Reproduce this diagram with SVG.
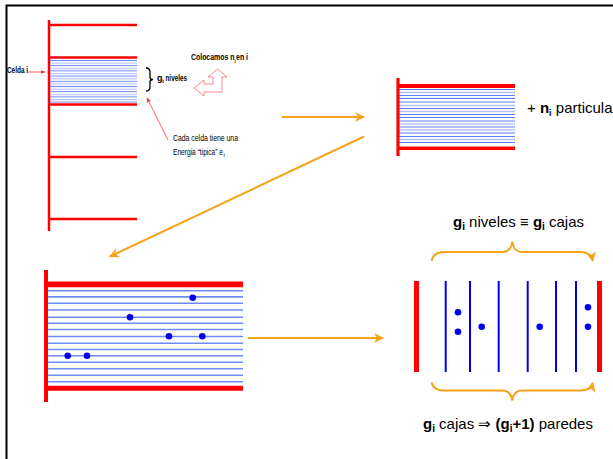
<svg xmlns="http://www.w3.org/2000/svg" width="613" height="459" viewBox="0 0 613 459">
  <style>
    .wall { stroke: #ff0000; fill: none; }
    .lvl-d { stroke: #5b7cff; stroke-width: 1; }
    .lvl-l { stroke: #b3c3ff; stroke-width: 1.4; }
    .lvl { stroke: #6b8cff; stroke-width: 1.6; }
    .box { stroke: #0000ee; stroke-width: 2; }
    .dot { fill: #0000ee; }
    .flow { stroke: #f7a21b; stroke-width: 2; fill: none; }
    .sm { font-family: "Liberation Sans", Arial, sans-serif; font-size: 9px; fill: #000; }
    .sub { font-family: "Liberation Sans", Arial, sans-serif; font-size: 6px; fill: #000; }
    .lg { font-family: "Liberation Sans", Arial, sans-serif; font-size: 15px; fill: #000; }
    .b { font-weight: bold; }
  </style>
  <defs>
    <marker id="ah" viewBox="0 0 10 10" refX="9" refY="5" markerWidth="5" markerHeight="5" orient="auto">
      <path d="M0,0 L10,5 L0,10 L3,5 z" fill="#f7a21b"/>
    </marker>
    <marker id="ahr" viewBox="0 0 10 10" refX="9" refY="5" markerWidth="6" markerHeight="6" orient="auto">
      <path d="M0,1 L10,5 L0,9 z" fill="#ff3030"/>
    </marker>
    <pattern id="lv1" x="0" y="60" width="10" height="5.2" patternUnits="userSpaceOnUse">
      <rect x="0" y="0" width="10" height="1" fill="#6a88ff"/>
      <rect x="0" y="2.6" width="10" height="1.2" fill="#b8c6ff"/>
    </pattern>
  </defs>

  <!-- slide frame -->
  <rect x="6.5" y="5.5" width="700" height="500" fill="#fff" stroke="#000" stroke-width="2"/>

  <!-- energy ladder with the highlighted cell -->
  <g id="ladder">
    <rect x="50" y="59" width="87" height="44" fill="url(#lv1)"/>
    <line class="wall" x1="49" y1="20" x2="49" y2="231" stroke-width="2.5"/>
    <line class="wall" x1="49" y1="25" x2="137" y2="25" stroke-width="2.5"/>
    <line class="wall" x1="49" y1="57.5" x2="137" y2="57.5" stroke-width="2.5"/>
    <line class="wall" x1="49" y1="104.5" x2="137" y2="104.5" stroke-width="2.5"/>
    <line class="wall" x1="49" y1="157" x2="137" y2="157" stroke-width="2.5"/>
    <line class="wall" x1="49" y1="219" x2="137" y2="219" stroke-width="2.5"/>
  </g>

  <g id="celda-label">
    <text class="sm b" x="7" y="73" textLength="21" lengthAdjust="spacingAndGlyphs">Celda i</text>
    <line x1="28" y1="72" x2="45" y2="72" stroke="#ff3030" stroke-width="0.8" marker-end="url(#ahr)"/>
  </g>

  <g id="niveles-label">
    <path d="M146,68 Q150,68 150,72 L150,77 Q150,79.5 153,79.5 Q150,79.5 150,82 L150,87 Q150,91 146,91" fill="none" stroke="#000" stroke-width="1.3"/>
    <text class="sm b" x="157" y="81">g</text>
    <text class="sub b" x="162.2" y="83">i</text>
    <text class="sm b" x="165.5" y="81" textLength="21.5" lengthAdjust="spacingAndGlyphs">niveles</text>
  </g>

  <g id="colocamos">
    <text class="sm b" transform="translate(191 60) scale(0.77 1)" x="0" y="0">Colocamos n<tspan class="sub" dy="2.5">i</tspan><tspan dy="-2.5" dx="0.5">en i</tspan></text>
    <polygon points="194,88 204,80 204,84 213,84 213,77 208,77 217.5,69 227,77 222,77 222,92 204,92 204,96" fill="#fff" stroke="#f48a8a" stroke-width="1"/>
  </g>

  <g id="energia-note">
    <line x1="168" y1="140" x2="147" y2="98" stroke="#ff3030" stroke-width="0.8" marker-end="url(#ahr)"/>
    <text class="sm" x="173" y="141" textLength="65" lengthAdjust="spacingAndGlyphs">Cada celda tiene una</text>
    <text class="sm" x="173" y="155" textLength="50" lengthAdjust="spacingAndGlyphs">Energia “tipica” e</text>
    <text class="sub" x="223.5" y="157">i</text>
  </g>

  <!-- isolated cell -->
  <g id="cell">
    <g>
      <line class="lvl-d" x1="399" y1="89.5" x2="515" y2="89.5"/>
      <line class="lvl-l" x1="399" y1="92.5" x2="515" y2="92.5"/>
      <line class="lvl-d" x1="399" y1="95.5" x2="515" y2="95.5"/>
      <line class="lvl-d" x1="399" y1="98.5" x2="515" y2="98.5"/>
      <line class="lvl-d" x1="399" y1="102" x2="515" y2="102"/>
      <line class="lvl-l" x1="399" y1="105.5" x2="515" y2="105.5"/>
      <line class="lvl-d" x1="399" y1="108.5" x2="515" y2="108.5"/>
      <line class="lvl-l" x1="399" y1="111.5" x2="515" y2="111.5"/>
      <line class="lvl-d" x1="399" y1="114.5" x2="515" y2="114.5"/>
      <line class="lvl-d" x1="399" y1="117.5" x2="515" y2="117.5"/>
      <line class="lvl-d" x1="399" y1="121" x2="515" y2="121"/>
      <line class="lvl-l" x1="399" y1="124" x2="515" y2="124"/>
      <line class="lvl-d" x1="399" y1="127" x2="515" y2="127"/>
      <line class="lvl-l" x1="399" y1="130" x2="515" y2="130"/>
      <line class="lvl-d" x1="399" y1="133" x2="515" y2="133"/>
      <line class="lvl-d" x1="399" y1="136.5" x2="515" y2="136.5"/>
      <line class="lvl-l" x1="399" y1="139.5" x2="515" y2="139.5"/>
      <line class="lvl-d" x1="399" y1="142.5" x2="515" y2="142.5"/>
    </g>
    <line class="wall" x1="398" y1="78" x2="398" y2="156" stroke-width="3.2"/>
    <line class="wall" x1="398" y1="86" x2="515" y2="86" stroke-width="4"/>
    <line class="wall" x1="398" y1="148.3" x2="515" y2="148.3" stroke-width="3.5"/>
    <text class="lg" x="527" y="113">+ <tspan class="b">n<tspan font-size="9" dy="3">i</tspan></tspan><tspan dy="-3"> particula</tspan></text>
  </g>

  <!-- cell filled with particles -->
  <g id="filled-cell">
    <g>
      <line class="lvl" x1="46" y1="290.7" x2="243" y2="290.7"/>
      <line class="lvl" x1="46" y1="296.9" x2="243" y2="296.9"/>
      <line class="lvl" x1="46" y1="303.3" x2="243" y2="303.3"/>
      <line class="lvl" x1="46" y1="310" x2="243" y2="310"/>
      <line class="lvl" x1="46" y1="317.3" x2="243" y2="317.3"/>
      <line class="lvl" x1="46" y1="323.3" x2="243" y2="323.3"/>
      <line class="lvl" x1="46" y1="329.5" x2="243" y2="329.5"/>
      <line class="lvl" x1="46" y1="336.5" x2="243" y2="336.5"/>
      <line class="lvl" x1="46" y1="343.3" x2="243" y2="343.3"/>
      <line class="lvl" x1="46" y1="349.5" x2="243" y2="349.5"/>
      <line class="lvl" x1="46" y1="355.8" x2="243" y2="355.8"/>
      <line class="lvl" x1="46" y1="362.3" x2="243" y2="362.3"/>
      <line class="lvl" x1="46" y1="368.7" x2="243" y2="368.7"/>
      <line class="lvl" x1="46" y1="375.3" x2="243" y2="375.3"/>
      <line class="lvl" x1="46" y1="381.7" x2="243" y2="381.7"/>
    </g>
    <line class="wall" x1="46" y1="270" x2="46" y2="402" stroke-width="4"/>
    <line class="wall" x1="46" y1="284.3" x2="243" y2="284.3" stroke-width="5.7"/>
    <line class="wall" x1="46" y1="388.3" x2="243" y2="388.3" stroke-width="5"/>
    <circle class="dot" cx="67.7" cy="355.7" r="3.3"/>
    <circle class="dot" cx="87" cy="355.7" r="3.3"/>
    <circle class="dot" cx="130" cy="317.3" r="3.3"/>
    <circle class="dot" cx="192.7" cy="297.7" r="3.3"/>
    <circle class="dot" cx="169" cy="336.3" r="3.3"/>
    <circle class="dot" cx="202.3" cy="336.3" r="3.3"/>
  </g>

  <!-- boxes and walls picture -->
  <g id="boxes">
    <line class="wall" x1="416.5" y1="281" x2="416.5" y2="372" stroke-width="5"/>
    <line class="wall" x1="599.5" y1="281" x2="599.5" y2="372" stroke-width="5"/>
    <line class="box" x1="445.7" y1="281" x2="445.7" y2="372"/>
    <line class="box" x1="470" y1="281" x2="470" y2="372"/>
    <line class="box" x1="498.7" y1="281" x2="498.7" y2="372"/>
    <line class="box" x1="527.7" y1="281" x2="527.7" y2="372"/>
    <line class="box" x1="556" y1="281" x2="556" y2="372"/>
    <line class="box" x1="576" y1="281" x2="576" y2="372"/>
    <circle class="dot" cx="458" cy="312.3" r="3.3"/>
    <circle class="dot" cx="458" cy="331.7" r="3.3"/>
    <circle class="dot" cx="481.7" cy="326.7" r="3.3"/>
    <circle class="dot" cx="539.7" cy="326.7" r="3.3"/>
    <circle class="dot" cx="588" cy="307.3" r="3.3"/>
    <circle class="dot" cx="588" cy="326.7" r="3.3"/>
  </g>

  <g id="top-brace">
    <path class="flow" d="M431.7,261 Q433,252 445,252 L502,252 Q511,252 512.3,241.5 Q513.5,252 522,252 L580,252 Q591,252 592.7,261" marker-end="url(#ah)"/>
    <text class="lg" x="453" y="227"><tspan class="b">g<tspan font-size="10" dy="3">i</tspan></tspan><tspan dy="-3"> niveles ≡ </tspan><tspan class="b">g<tspan font-size="10" dy="3">i</tspan></tspan><tspan dy="-3"> cajas</tspan></text>
  </g>

  <g id="bottom-brace">
    <path class="flow" d="M431.7,382.3 Q433,390.5 445,390.5 L502,390.5 Q511,390.5 512.3,400.5 Q513.5,390.5 522,390.5 L580,390.5 Q591,390.5 592.7,383" marker-end="url(#ah)"/>
    <text class="lg" x="423" y="428.5"><tspan class="b">g<tspan font-size="10" dy="3">i</tspan></tspan><tspan dy="-3"> cajas ⇒ </tspan><tspan class="b">(g<tspan font-size="10" dy="3">i</tspan><tspan dy="-3">+1)</tspan></tspan> paredes</text>
  </g>

  <!-- flow arrows -->
  <g id="connectors">
    <line class="flow" x1="282" y1="117" x2="364" y2="117" marker-end="url(#ah)"/>
    <line class="flow" x1="364" y1="136.5" x2="110" y2="256.5" marker-end="url(#ah)"/>
    <line class="flow" x1="248" y1="338" x2="383" y2="338" marker-end="url(#ah)"/>
  </g>
</svg>
